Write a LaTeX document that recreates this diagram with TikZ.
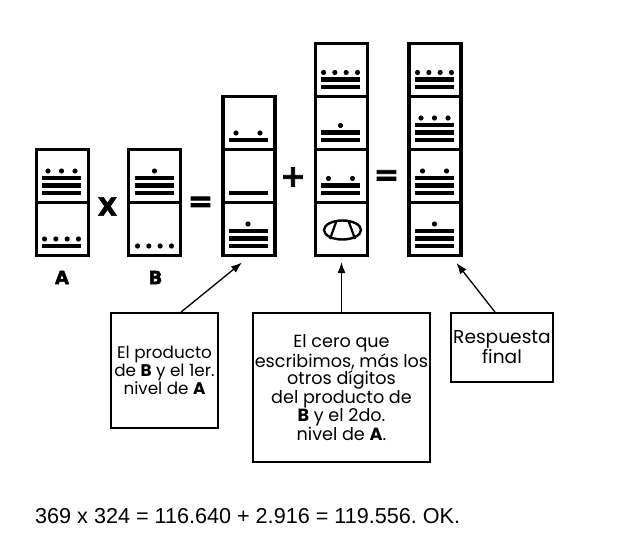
\documentclass[tikz,border=0pt]{standalone}
\usepackage{fontspec}
\setmainfont{Poppins}
\newfontfamily\arialfont{Liberation Sans}
\newfontfamily\heavyfont{DejaVu Sans}[BoldFeatures={FakeBold=2.5}]
\usetikzlibrary{arrows.meta}
\frenchspacing

% Maya numeral glyph: #1 centre x, #2 cell bottom y, #3 bars, #4 dots
\newcommand\mayaglyph[4]{%
  \ifnum#3>0
    \foreach \i in {1,...,#3}{%
      \fill ({#1-19.5},{#2-9.5-7.5*(\i-1)-2.3}) rectangle ({#1+19.5},{#2-9.5-7.5*(\i-1)+2.3});
    }%
  \fi
  \ifnum#4>0
    \pgfmathsetmacro\dotY{#3>0 ? #2-9-7.5*#3 : #2-9.5}%
    \pgfmathsetmacro\dotS{#4==1 ? 0 : (#4==2 ? 24 : (#4==3 ? 13.5 : 11.3))}%
    \foreach \j in {1,...,#4}{%
      \fill ({#1+\dotS*(\j-(#4+1)/2)},\dotY) circle[radius=2.6pt];
    }%
  \fi
}

\begin{document}
\begin{tikzpicture}[x=1pt,y=-1pt,
  cell/.style={draw,line width=3.2pt,minimum width=52pt,minimum height=53pt,inner sep=0pt,outer sep=0pt},
  pointer/.style={line width=1.3pt,-{Latex[length=11pt,width=8pt]}},
  note/.style={draw,line width=1.8pt,align=center,inner sep=0pt},
  op/.style={font=\heavyfont\bfseries\fontsize{#1}{#1}\selectfont,inner sep=0pt}]
\useasboundingbox (0,0) rectangle (632,543);

% ---- column A (369) ----
\node[cell] (A1) at (62.5,229) {};
\node[cell] (A2) at (62.5,176) {};
\mayaglyph{61.5}{255.5}{1}{4}
\mayaglyph{61.5}{202.5}{3}{3}
\node[op=18] (labA) at (62,277.5) {A};

% ---- column B (324) ----
\node[cell] (B1) at (154.5,229) {};
\node[cell] (B2) at (154.5,176) {};
\mayaglyph{154.5}{255.5}{0}{4}
\mayaglyph{154.5}{202.5}{3}{1}
\node[op=18] (labB) at (155.5,277.5) {B};

% ---- product column (2.916) ----
\node[cell] (P1) at (249,229) {};
\node[cell] (P2) at (249,176) {};
\node[cell] (P3) at (249,123) {};
\mayaglyph{248}{255.5}{3}{1}
\mayaglyph{248}{202.5}{1}{0}
\mayaglyph{248}{149.5}{1}{2}

% ---- second column (116.640) ----
\node[cell] (C1) at (341.5,229) {};
\node[cell] (C2) at (341.5,176) {};
\node[cell] (C3) at (341.5,123) {};
\node[cell] (C4) at (341.5,70) {};
\draw[line width=2.4pt] (342.5,230) ellipse [x radius=18.5pt, y radius=9.5pt];
\draw[line width=2.2pt] (336.5,220.8) -- (330,239);
\draw[line width=2.2pt] (348.5,220.8) -- (355,239);
\mayaglyph{340.5}{202.5}{2}{2}
\mayaglyph{340.5}{149.5}{2}{1}
\mayaglyph{340.5}{96.5}{2}{4}

% ---- final column (119.556) ----
\node[cell] (F1) at (435,229) {};
\node[cell] (F2) at (435,176) {};
\node[cell] (F3) at (435,123) {};
\node[cell] (F4) at (435,70) {};
\mayaglyph{434.5}{255.5}{3}{1}
\mayaglyph{434.5}{202.5}{3}{2}
\mayaglyph{434.5}{149.5}{3}{3}
\mayaglyph{434.5}{96.5}{2}{4}

% ---- operators ----
\node[op=25] (opx) at (107.5,206.5) {X};
\node[op=30] (opeq1) at (200.5,204) {=};
\node[op=30] (opplus) at (293,177) {+};
\node[op=30] (opeq2) at (386.5,177.5) {=};

% ---- notes ----
\node[note,minimum width=107pt,minimum height=115pt,font=\fontsize{16.8}{16.5}\selectfont] (box1) at (164.5,370.5)
  {El producto\\de \textbf{B} y el 1er.\\nivel de \textbf{A}};
\node[note,minimum width=177pt,minimum height=149pt,font=\fontsize{17.6}{17.7}\selectfont] (box2) at (341.5,387.5)
  {El cero que\\escribimos, más los\\otros dígitos\\del producto de\\\textbf{B} y el 2do.\\nivel de \textbf{A}.};
\node[note,minimum width=102pt,minimum height=69pt,font=\fontsize{18.6}{18.5}\selectfont] (box3) at (502,347.5)
  {Respuesta\\final};

% ---- arrows ----
\coordinate (t1) at (242,262.5);
\coordinate (t2) at (341.5,262);
\coordinate (t3) at (456.5,263);
\draw[pointer] ([xshift=16.5pt]box1.north) -- (t1);
\draw[pointer] (box2.north) -- (t2);
\draw[pointer] ([xshift=-7pt]box3.north) -- (t3);

% ---- bottom line ----
\node[anchor=base west,inner sep=0pt,font=\arialfont\fontsize{21.6}{25}\selectfont] (eq) at (35,523)
  {369 x 324 = 116.640 + 2.916 = 119.556. OK.};
\end{tikzpicture}
\end{document}
